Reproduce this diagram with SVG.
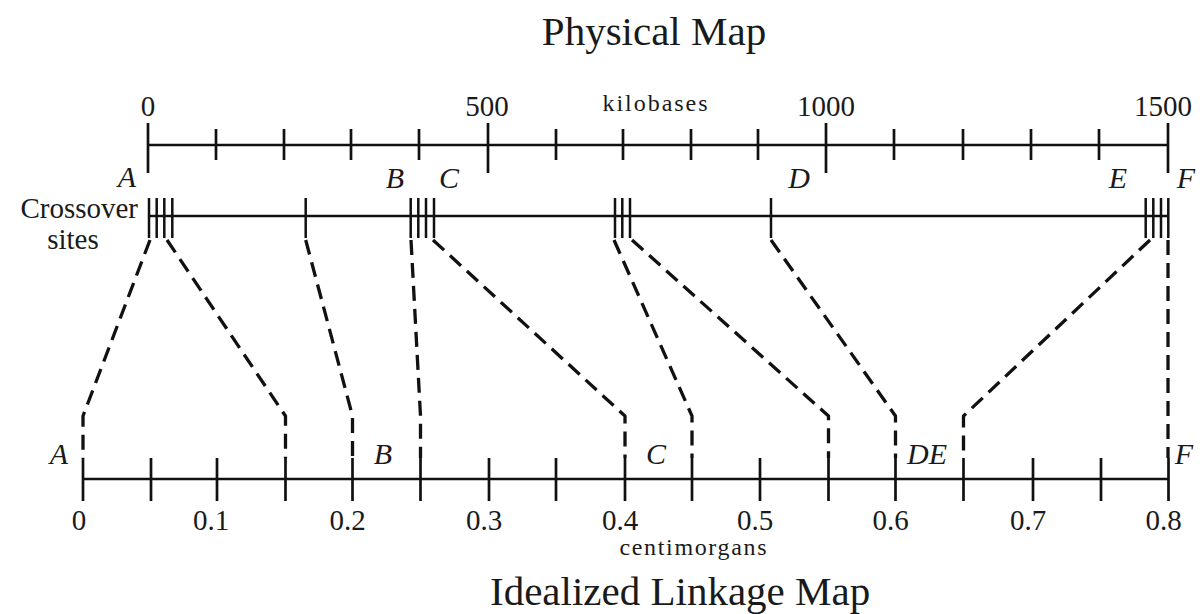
<svg xmlns="http://www.w3.org/2000/svg" width="1200" height="614" viewBox="0 0 1200 614">
  <style>
    text { font-family: "Liberation Serif", "Times New Roman", serif; fill: #1a1a1a; }
    .title { font-size: 41px; }
    .num { font-size: 29px; text-anchor: middle; }
    .unit { font-size: 24px; text-anchor: middle; }
    .locus { font-size: 30px; font-style: italic; }
    .side { font-size: 29px; }
    .axis { stroke: #111; stroke-width: 2.7; fill: none; }
    .tick { stroke: #111; stroke-width: 2.7; fill: none; }
    .site { stroke: #111; stroke-width: 2.5; fill: none; }
    .dash { stroke: #111; stroke-width: 3.3; fill: none; stroke-dasharray: 15 8; stroke-linejoin: round; }
  </style>
  <rect width="1200" height="614" fill="#ffffff"/>

  <!-- Physical map: kilobase scale -->
  <g id="physical-map">
    <text class="title" x="654" y="45" text-anchor="middle">Physical Map</text>
    <line class="axis" x1="147" y1="145" x2="1169" y2="145"/>
    <!-- major ticks every 500 kb -->
    <path class="tick" d="M148 123V173M488 123V173M826 123V173M1168 123V173"/>
    <!-- minor ticks every 100 kb -->
    <path class="tick" d="M216 129V160M284 129V160M351 129V160M419 129V160M556 129V160M623 129V160M691 129V160M758 129V160M894 129V160M963 129V160M1031 129V160M1099 129V160"/>
    <text class="num" x="148" y="116">0</text>
    <text class="num" x="487" y="116">500</text>
    <text class="num" x="826" y="116">1000</text>
    <text class="num" x="1163" y="116">1500</text>
    <text class="unit" x="655" y="111" textLength="105" lengthAdjust="spacing">kilobases</text>
    <text class="locus" x="127" y="187" text-anchor="middle">A</text>
    <text class="locus" x="395" y="188" text-anchor="middle">B</text>
    <text class="locus" x="449" y="188" text-anchor="middle">C</text>
    <text class="locus" x="799" y="188" text-anchor="middle">D</text>
    <text class="locus" x="1118" y="188" text-anchor="middle">E</text>
    <text class="locus" x="1186" y="188" text-anchor="middle">F</text>
  </g>

  <!-- Crossover sites along the physical map -->
  <g id="crossover-sites">
    <text class="side" x="138" y="218" text-anchor="end">Crossover</text>
    <text class="side" x="73" y="249" text-anchor="middle">sites</text>
    <line class="axis" x1="149" y1="216" x2="1168" y2="216"/>
    <path class="site" d="M149 198V238M156.7 198V238M164.3 198V238M172.3 198V238"/>
    <path class="site" d="M305.7 198V238"/>
    <path class="site" d="M410.7 198V238M418.3 198V238M426 198V238M434 198V238"/>
    <path class="site" d="M615 198V238M622.3 198V238M630 198V238"/>
    <path class="site" d="M771 198V238"/>
    <path class="site" d="M1145.7 198V238M1153.3 198V238M1161 198V238M1168.3 198V238"/>
  </g>

  <!-- Dashed correspondences from crossover sites to map distances -->
  <g id="connectors">
    <path class="dash" d="M150 240L83 416V458"/>
    <path class="dash" d="M167 240L285.5 416V458"/>
    <path class="dash" d="M305.7 240L352.5 416V458"/>
    <path class="dash" d="M411 240L420.5 416V458"/>
    <path class="dash" d="M433 240L625 416V458"/>
    <path class="dash" d="M614 240L692 416V458"/>
    <path class="dash" d="M632 240L828.5 416V458"/>
    <path class="dash" d="M771 240L895.5 416V458"/>
    <path class="dash" d="M1150 240L963.5 416V458"/>
    <path class="dash" d="M1168 240V458"/>
  </g>

  <!-- Idealized linkage map: centimorgan scale -->
  <g id="linkage-map">
    <line class="axis" x1="83" y1="479" x2="1168.5" y2="479"/>
    <path class="tick" d="M83 458V501M151 458V501M217 458V501M285.5 458V501M352.5 458V501M420.5 458V501M489 458V501M556 458V501M625 458V501M692 458V501M760 458V501M828.5 458V501M895.5 458V501M963.5 458V501M1033 458V501M1101 458V501M1168.5 458V501"/>
    <text class="num" x="79" y="530">0</text>
    <text class="num" x="211" y="530">0.1</text>
    <text class="num" x="347.5" y="530">0.2</text>
    <text class="num" x="484" y="530">0.3</text>
    <text class="num" x="620" y="530">0.4</text>
    <text class="num" x="755" y="530">0.5</text>
    <text class="num" x="890.5" y="530">0.6</text>
    <text class="num" x="1028" y="530">0.7</text>
    <text class="num" x="1163.5" y="530">0.8</text>
    <text class="unit" x="693" y="555" textLength="147" lengthAdjust="spacing">centimorgans</text>
    <text class="locus" x="59" y="464" text-anchor="middle">A</text>
    <text class="locus" x="383" y="464" text-anchor="middle">B</text>
    <text class="locus" x="656" y="464" text-anchor="middle">C</text>
    <text class="locus" x="927" y="464" text-anchor="middle">DE</text>
    <text class="locus" x="1184" y="464" text-anchor="middle">F</text>
    <text class="title" x="490" y="605">Idealized Linkage Map</text>
  </g>
</svg>
